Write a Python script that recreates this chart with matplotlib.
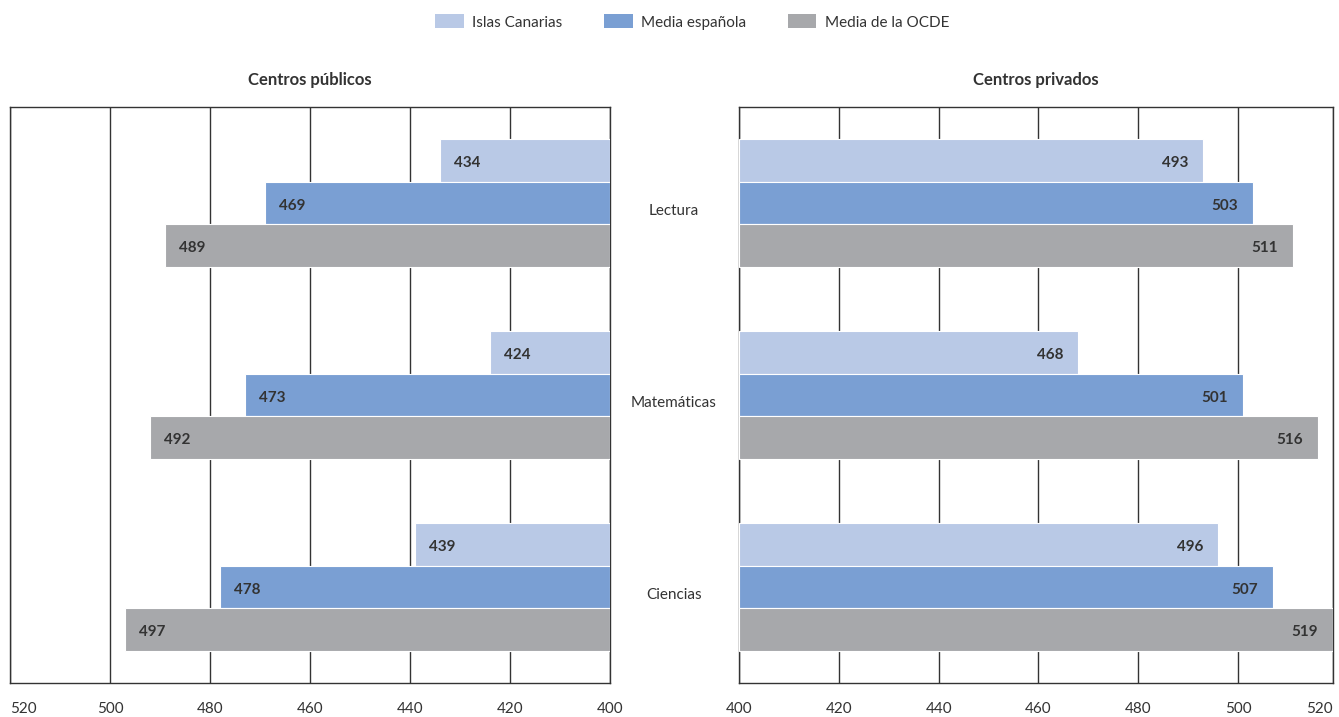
import matplotlib

matplotlib.use("Agg")
import matplotlib.pyplot as plt
import numpy as np
from matplotlib.patches import Patch

plt.rcParams["font.family"] = ["Lato", "DejaVu Sans"]

categories = ["Lectura", "Matemáticas", "Ciencias"]
series = ["Islas Canarias", "Media española", "Media de la OCDE"]
publicos = {
    "Islas Canarias": [434, 424, 439],
    "Media española": [469, 473, 478],
    "Media de la OCDE": [489, 492, 497],
}
privados = {
    "Islas Canarias": [493, 468, 496],
    "Media española": [503, 501, 507],
    "Media de la OCDE": [511, 516, 519],
}
tick_values = [400, 420, 440, 460, 480, 500, 520]

colors = ["#B9C9E6", "#7A9FD3", "#A7A8AB"]
text_color = "#333333"

fig = plt.figure(figsize=(13.39, 7.17), dpi=100)
ax_l = fig.add_axes([10 / 1339, 34 / 717, 600 / 1339, 576 / 717])
ax_r = fig.add_axes([739 / 1339, 34 / 717, 594 / 1339, 576 / 717])

y = np.arange(len(categories))
bar_h = 0.222


def draw_panel(ax, data, left_side):
    for i, name in enumerate(series):
        vals = data[name]
        pos = y + (i - 1) * bar_h
        ax.barh(pos, np.array(vals) - 400, left=400, height=bar_h,
                color=colors[i], edgecolor="white", linewidth=0.8, zorder=3)
        for p, v in zip(pos, vals):
            if left_side:
                ax.annotate(str(v), (v, p), xytext=(10, -2), textcoords="offset points",
                            ha="left", va="center", fontsize=11, fontweight="bold",
                            color=text_color, zorder=4)
            else:
                ax.annotate(str(v), (v, p), xytext=(-11, -2), textcoords="offset points",
                            ha="right", va="center", fontsize=11, fontweight="bold",
                            color=text_color, zorder=4)
    ax.set_ylim(len(categories) - 0.5, -0.5)
    ax.set_yticks([])
    ax.set_xticks(tick_values)
    ax.set_xticklabels([str(t) for t in tick_values])
    ax.tick_params(axis="x", length=0, pad=14, labelsize=11, labelcolor=text_color)
    ax.grid(axis="x", color="#333333", linewidth=1.0, zorder=0)
    for s in ax.spines.values():
        s.set_color("#333333")
        s.set_linewidth(1.0)


draw_panel(ax_l, publicos, True)
ax_l.set_xlim(520, 400)
ax_l.set_title("Centros públicos", fontsize=12, fontweight="bold", color=text_color, pad=16)
# keep the outer "520" label inside the figure
ax_l.get_xticklabels()[-1].set_horizontalalignment("left")

draw_panel(ax_r, privados, False)
ax_r.set_xlim(400, 519)
ax_r.set_xticks(tick_values[:-1] + [518.9])
ax_r.set_xticklabels([str(t) for t in tick_values])
ax_r.get_xticklabels()[-1].set_horizontalalignment("right")
ax_r.set_title("Centros privados", fontsize=12, fontweight="bold", color=text_color, pad=16)

# category labels between the panels, sitting a little below the group centre
for i, cat in enumerate(categories):
    yy = ax_l.transData.transform((400, y[i]))[1] - 8
    fig.text(674 / 1339, fig.transFigure.inverted().transform((0, yy))[1], cat,
             ha="center", va="center", fontsize=11, color=text_color)

handles = [Patch(facecolor=c, edgecolor="none") for c in colors]
fig.legend(handles, series, loc="center", bbox_to_anchor=(0.517, 1 - 22 / 717), ncol=3,
           frameon=False, fontsize=11, handlelength=1.85, handleheight=1.0,
           columnspacing=2.75, handletextpad=0.55, labelcolor=text_color)

fig.savefig("out.png", dpi=100)
